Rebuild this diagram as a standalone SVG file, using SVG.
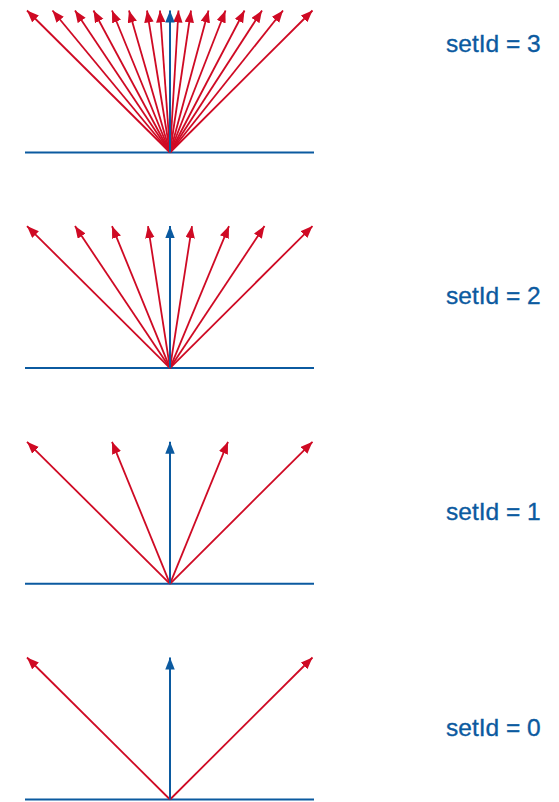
<svg xmlns="http://www.w3.org/2000/svg" width="559" height="802" viewBox="0 0 559 802">
  <style>
    .base { stroke: #0b5aa0; stroke-width: 2; fill: none; }
    .red { stroke: #cf0a24; stroke-width: 1.8; fill: none; marker-end: url(#ahRed); }
    .blue { stroke: #0b5aa0; stroke-width: 2; fill: none; marker-end: url(#ahBlue); }
    .lbl { font-family: "Liberation Sans", Arial, sans-serif; font-size: 24.5px; fill: #0b5aa0; stroke: #0b5aa0; stroke-width: 0.35; }
  </style>
  <defs>
    <marker id="ahRed" markerUnits="userSpaceOnUse" markerWidth="13" markerHeight="10" refX="12" refY="4.75" orient="auto">
      <path d="M0,0 L12,4.75 L0,9.5 Z" fill="#cf0a24"/>
    </marker>
    <marker id="ahBlue" markerUnits="userSpaceOnUse" markerWidth="13" markerHeight="10" refX="12" refY="4.75" orient="auto">
      <path d="M0,0 L12,4.75 L0,9.5 Z" fill="#0b5aa0"/>
    </marker>
  </defs>
  <rect width="559" height="802" fill="#ffffff"/>

  <g id="panel-setId-3">
    <line class="base" x1="25" y1="152.5" x2="314" y2="152.5"/>
    <g id="connectors-3">
      <line class="red" x1="170" y1="152.5" x2="27" y2="10.5"/>
      <line class="red" x1="170" y1="152.5" x2="52.5" y2="10.5"/>
      <line class="red" x1="170" y1="152.5" x2="75" y2="10.5"/>
      <line class="red" x1="170" y1="152.5" x2="93.5" y2="10.5"/>
      <line class="red" x1="170" y1="152.5" x2="112" y2="10.5"/>
      <line class="red" x1="170" y1="152.5" x2="129" y2="10.5"/>
      <line class="red" x1="170" y1="152.5" x2="147" y2="10.5"/>
      <line class="red" x1="170" y1="152.5" x2="160" y2="10.5"/>
      <line class="red" x1="170" y1="152.5" x2="178.5" y2="10.5"/>
      <line class="red" x1="170" y1="152.5" x2="191" y2="10.5"/>
      <line class="red" x1="170" y1="152.5" x2="208.5" y2="10.5"/>
      <line class="red" x1="170" y1="152.5" x2="225.5" y2="10.5"/>
      <line class="red" x1="170" y1="152.5" x2="244.5" y2="10.5"/>
      <line class="red" x1="170" y1="152.5" x2="262" y2="10.5"/>
      <line class="red" x1="170" y1="152.5" x2="283" y2="10.5"/>
      <line class="red" x1="170" y1="152.5" x2="312.5" y2="10.5"/>
      <line class="blue" x1="170" y1="152.5" x2="170" y2="10.5"/>
    </g>
    <text class="lbl" x="446" y="52">setId = 3</text>
  </g>

  <g id="panel-setId-2" transform="translate(0,215.6)">
    <line class="base" x1="25" y1="152.5" x2="314" y2="152.5"/>
    <g id="connectors-2">
      <line class="red" x1="170" y1="152.5" x2="27" y2="10.5"/>
      <line class="red" x1="170" y1="152.5" x2="75" y2="10.5"/>
      <line class="red" x1="170" y1="152.5" x2="112" y2="10.5"/>
      <line class="red" x1="170" y1="152.5" x2="148" y2="10.5"/>
      <line class="red" x1="170" y1="152.5" x2="192" y2="10.5"/>
      <line class="red" x1="170" y1="152.5" x2="229" y2="10.5"/>
      <line class="red" x1="170" y1="152.5" x2="264.5" y2="10.5"/>
      <line class="red" x1="170" y1="152.5" x2="312.5" y2="10.5"/>
      <line class="blue" x1="170" y1="152.5" x2="170" y2="10.5"/>
    </g>
    <text class="lbl" x="446" y="88.5">setId = 2</text>
  </g>

  <g id="panel-setId-1" transform="translate(0,431.3)">
    <line class="base" x1="25" y1="152.5" x2="314" y2="152.5"/>
    <g id="connectors-1">
      <line class="red" x1="170" y1="152.5" x2="27" y2="10.5"/>
      <line class="red" x1="170" y1="152.5" x2="112" y2="10.5"/>
      <line class="red" x1="170" y1="152.5" x2="228" y2="10.5"/>
      <line class="red" x1="170" y1="152.5" x2="312.5" y2="10.5"/>
      <line class="blue" x1="170" y1="152.5" x2="170" y2="10.5"/>
    </g>
    <text class="lbl" x="446" y="88.5">setId = 1</text>
  </g>

  <g id="panel-setId-0" transform="translate(0,647)">
    <line class="base" x1="25" y1="152.5" x2="314" y2="152.5"/>
    <g id="connectors-0">
      <line class="red" x1="170" y1="152.5" x2="27" y2="10.5"/>
      <line class="red" x1="170" y1="152.5" x2="312.5" y2="10.5"/>
      <line class="blue" x1="170" y1="152.5" x2="170" y2="10.5"/>
    </g>
    <text class="lbl" x="446" y="88.5">setId = 0</text>
  </g>
</svg>
